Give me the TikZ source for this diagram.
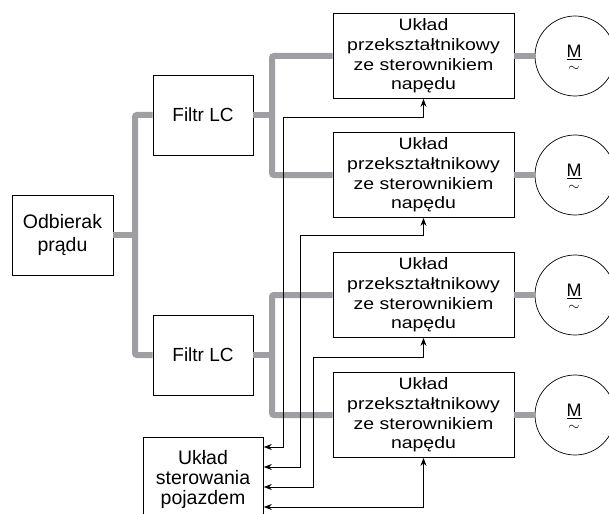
\documentclass[tikz,border=0pt]{standalone}
\usepackage{fontspec}
\setmainfont{Liberation Sans}
\newfontfamily\convfont[FakeStretch=1.18]{Liberation Sans}
\usetikzlibrary{arrows.meta}
\definecolor{busgray}{RGB}{158,158,163}
\tikzset{
  x=1pt, y=-1pt,
  blk/.style={draw=black, line width=0.8pt, inner sep=0pt, align=center},
  filt/.style={blk, minimum width=100pt, minimum height=80pt, font=\fontsize{19}{22}\selectfont},
  conv/.style={blk, minimum width=181pt, minimum height=85pt, font=\convfont\fontsize{16.5}{19.7}\selectfont},
  motor/.style={draw=black, line width=0.7pt, circle, minimum size=80pt, inner sep=0pt},
  mlab/.style={inner sep=0pt, align=center, font=\fontsize{18}{20}\selectfont},
  bus/.style={draw=busgray, line width=6pt, rounded corners=2pt},
  ctl/.style={draw=black, line width=0.8pt, {Stealth[length=8pt,width=6pt]}-{Stealth[length=8pt,width=6pt]}},
}
\begin{document}
\begin{tikzpicture}
\useasboundingbox (0,0) rectangle (609,513);
% blocks
\node[filt, minimum width=101pt, font=\fontsize{19.5}{23}\selectfont] (odb) at (62.5,235) {Odbierak\\prądu};
\node[filt] (f1) at (203,115) {Filtr LC};
\node[filt] (f2) at (203,355) {Filtr LC};
\node[conv] (c1) at (423.5,56) {Układ\\przekształtnikowy\\ze sterownikiem\\napędu};
\node[conv] (c2) at (423.5,175) {Układ\\przekształtnikowy\\ze sterownikiem\\napędu};
\node[conv] (c3) at (423.5,295) {Układ\\przekształtnikowy\\ze sterownikiem\\napędu};
\node[conv] (c4) at (423.5,415) {Układ\\przekształtnikowy\\ze sterownikiem\\napędu};
\foreach \i/\y in {1/56,2/175,3/295,4/415}{
  \node[motor] (m\i) at (575,\y) {};
  \node[mlab] (m\i M) at (574,\y+2.5) {\underline{M}\\[-6pt]{\fontsize{14}{14}\selectfont$\sim$}};
}
\node[blk, anchor=north west, minimum width=120pt, minimum height=100pt] (ctrl) at (143,437) {};
\node[align=center, inner sep=0pt, font=\fontsize{19.5}{20}\selectfont] (ctrltxt) at (203,479) {Układ\\sterowania\\pojazdem};
% power bus
\draw[bus] (f1.west) -| (135,235) |- (f2.west);
\draw[bus] (odb.east) -- (135,235);
\draw[bus] (c1.west) -| (272,115) |- (c2.west);
\draw[bus] (f1.east) -- (272,115);
\draw[bus] (c3.west) -| (272,355) |- (c4.west);
\draw[bus] (f2.east) -- (272,355);
\foreach \i in {1,2,3,4}{
  \draw[bus, rounded corners=0pt] (c\i.east) -- (m\i.west);
}
% control lines
\draw[ctl] (ctrl.east |- 0,447) -| (283,117) -| (c1.south);
\draw[ctl] (ctrl.east |- 0,467) -| (300,235) -| (c2.south);
\draw[ctl] (ctrl.east |- 0,487) -| (313,357) -| (c3.south);
\draw[ctl] (ctrl.east |- 0,507) -| (c4.south);
\end{tikzpicture}
\end{document}
